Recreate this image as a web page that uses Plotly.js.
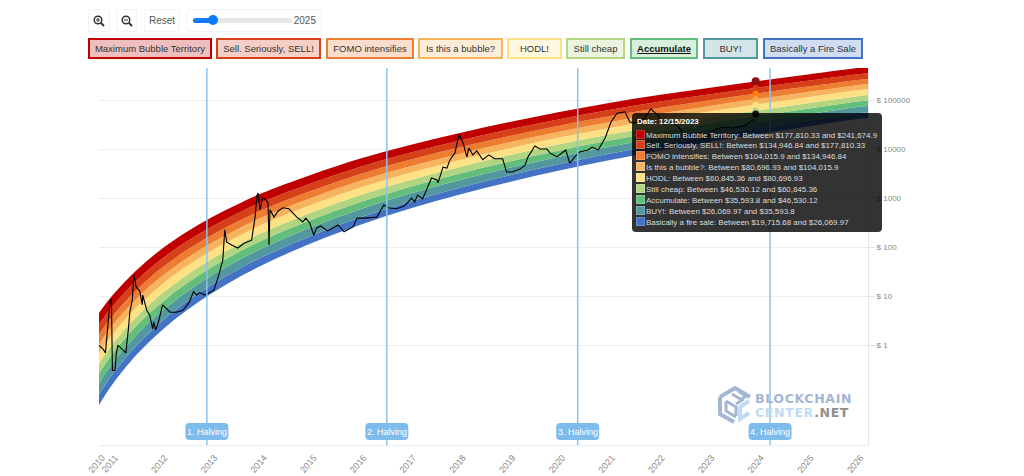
<!DOCTYPE html>
<html>
<head>
<meta charset="utf-8">
<script src="https://cdn.plot.ly/plotly-3.0.1.min.js"></script>
<style>
html,body{margin:0;padding:0;background:#fff;width:1024px;height:476px;overflow:hidden;font-family:"Liberation Sans",Arial,sans-serif}
#chart{position:absolute;left:0;top:0;width:1024px;height:476px}
.ctl{position:absolute;box-sizing:border-box;border:1px solid #f3f3f3;border-radius:2px;background:#fff;color:#555;font-size:10px;display:flex;align-items:center;justify-content:center}
.leg{position:absolute;box-sizing:border-box;top:38px;height:21px;border-width:2px;border-style:solid;font-size:9.5px;color:#333;display:flex;align-items:center;justify-content:center;white-space:nowrap}
#track{position:absolute;left:193px;top:18px;width:99px;height:5px;border-radius:3px;background:#e6e6e6}
#fill{position:absolute;left:193px;top:18px;width:20px;height:5px;border-radius:3px 0 0 3px;background:#0d7bff}
#thumb{position:absolute;left:208px;top:15px;width:10px;height:10px;border-radius:50%;background:#0d7bff}
#tip{position:absolute;left:632px;top:113px;width:250px;height:119px;border-radius:4px;background:rgba(0,0,0,.8);color:#fff;font-size:7.95px;line-height:11px}
#tip .t{font-weight:bold;position:absolute;left:5px;top:3px}
#tip .r{position:absolute;left:4px;white-space:nowrap;color:#ddd}
#tip .s{display:inline-block;width:7px;height:7px;border:1px solid #fff3;margin-right:1px;vertical-align:-1px}
#logo{position:absolute;left:718px;top:386px;width:140px;height:40px}
.wm{position:absolute;left:755px;font:bold 12.6px "DejaVu Sans",sans-serif;letter-spacing:.6px;line-height:14.8px;white-space:nowrap}
</style>
</head>
<body>
<div id="chart"></div>
<svg id="logo" viewBox="0 0 140 40" style="pointer-events:none">
  <g fill="none" stroke-width="4" stroke-linejoin="miter">
    <path d="M2 11 L17 2 L32 11" stroke="#a5b6d5"/>
    <path d="M2 11 V28 L16 36" stroke="#a5b6d5"/>
    <path d="M8 15 L18 21 V30 M8 15 V25 L18 31" stroke="#a5b6d5" stroke-width="3"/>
    <path d="M14 8 L24 14 L18 18 M20 5 L28 10 L22 14" stroke="#a5b6d5" stroke-width="3"/>
    <path d="M31 15 L22 21 V33 L31 27" stroke="#bfdcf2"/>
  </g>
</svg>
<div class="wm" style="top:391.5px;color:#a5b6d5">BLOCKCHAIN</div>
<div class="wm" style="top:406.4px;color:#bfdcf2">CENTER<span style="color:#8f8f8f">.NET</span></div>

<div class="ctl" style="left:88px;top:9px;width:22px;height:23px">
  <svg width="12" height="12" viewBox="0 0 12 12"><circle cx="5" cy="5" r="3.8" fill="none" stroke="#333" stroke-width="1.5"/><path d="M8 8 L11 11" stroke="#333" stroke-width="2"/><path d="M3 5H7M5 3V7" stroke="#333"/></svg>
</div>
<div class="ctl" style="left:116px;top:9px;width:21px;height:23px">
  <svg width="12" height="12" viewBox="0 0 12 12"><circle cx="5" cy="5" r="3.8" fill="none" stroke="#333" stroke-width="1.5"/><path d="M8 8 L11 11" stroke="#333" stroke-width="2"/><path d="M3 5H7" stroke="#333"/></svg>
</div>
<div class="ctl" style="left:144px;top:9px;width:36px;height:23px">Reset</div>
<div class="ctl" style="left:187px;top:9px;width:135px;height:23px;justify-content:flex-end;padding-right:5px">2025</div>
<div id="track"></div><div id="fill"></div><div id="thumb"></div>
<div id="legendRow"></div>
<div id="tip"></div>

<script>
const buttonNames = ["Maximum Bubble Territory","Sell. Seriously, SELL!","FOMO intensifies","Is this a bubble?","HODL!","Still cheap","Accumulate","BUY!","Basically a Fire Sale"];
const bandNames = ["Maximum Bubble Territory","Sell. Seriously, SELL!","FOMO intensifies","Is this a bubble?","HODL","Still cheap","Accumulate","BUY!","Basically a fire sale"];
const bandColors = ["#c00000","#d64018","#ed7d31","#f6b45e","#fee185","#b1d580","#63be7b","#54989f","#4472c4"];
const buttonLeft  = [88,216,326,418,507,566,630,703,763];
const buttonWidth = [124,105,88,85,55,59,68,55,100];

// Decimal-year positions of the band readings
const bandDates = [2010.74,2011,2011.5,2012,2012.5,2013,2013.5,2014,2015,2016,2017,2018,2019,2020,2021,2022,2023,2024,2025,2026,2026.21];
// log10(price) of each band edge, bottom to top
const fireSaleLow   = [-1.224,-.816,-.194,.298,.704,1.053,1.353,1.620,2.071,2.455,2.786,3.071,3.327,3.561,3.771,3.959,4.143,4.306,4.459,4.612,4.633];
const buyLow        = [-1.016,-.614,-.003,.482,.882,1.225,1.520,1.783,2.226,2.605,2.930,3.210,3.463,3.694,3.901,4.086,4.265,4.426,4.577,4.728,4.748];
const accumulateLow = [-.783,-.389,.211,.688,1.080,1.417,1.706,1.965,2.400,2.772,3.091,3.366,3.615,3.842,4.045,4.228,4.402,4.560,4.709,4.857,4.877];
const stillCheapLow = [-.580,-.193,.398,.868,1.253,1.584,1.869,2.124,2.551,2.918,3.231,3.502,3.747,3.971,4.172,4.351,4.521,4.677,4.824,4.969,4.990];
const hodlLow       = [-.381,-.001,.581,1.044,1.423,1.749,2.028,2.280,2.699,3.061,3.368,3.635,3.877,4.097,4.295,4.472,4.638,4.792,4.936,5.079,5.100];
const bubbleLow     = [-.168,.206,.776,1.232,1.605,1.924,2.199,2.447,2.857,3.214,3.515,3.778,4.016,4.233,4.428,4.602,4.763,4.915,5.057,5.198,5.218];
const fomoLow       = [.022,.390,.951,1.401,1.768,2.082,2.352,2.596,2.999,3.351,3.647,3.905,4.140,4.354,4.547,4.718,4.875,5.024,5.165,5.303,5.324];
const sellLow       = [.216,.577,1.129,1.572,1.933,2.241,2.507,2.747,3.143,3.490,3.780,4.034,4.266,4.477,4.667,4.836,4.988,5.136,5.274,5.410,5.431];
const maxBubbleLow  = [.424,.778,1.321,1.756,2.111,2.413,2.674,2.911,3.298,3.639,3.924,4.174,4.402,4.609,4.797,4.963,5.111,5.256,5.392,5.526,5.546];
const maxBubbleHigh = [.653,1.000,1.531,1.959,2.306,2.602,2.857,3.090,3.469,3.804,4.082,4.327,4.551,4.755,4.939,5.102,5.245,5.388,5.522,5.653,5.673];

// Bitcoin price: decimal year and log10(price)
const priceDates = [2010.74,2010.82,2010.87,2010.92,2010.96,2010.99,2011.00,2011.01,2011.06,2011.09,2011.12,2011.19,2011.28,2011.33,2011.36,2011.41,2011.44,2011.49,2011.56,2011.61,2011.62,2011.70,2011.76,2011.82,2011.84,2011.88,2011.93,2012.02,2012.10,2012.17,2012.30,2012.43,2012.56,2012.64,2012.70,2012.77,2012.87,2013.05,2013.14,2013.23,2013.27,2013.31,2013.41,2013.53,2013.67,2013.81,2013.88,2013.92,2013.94,2013.98,2014.03,2014.10,2014.14,2014.16,2014.18,2014.26,2014.34,2014.44,2014.56,2014.72,2014.84,2014.90,2014.98,2015.06,2015.12,2015.20,2015.34,2015.55,2015.67,2015.85,2015.93,2016.09,2016.33,2016.47,2016.55,2016.73,2016.89,2017.03,2017.09,2017.15,2017.25,2017.35,2017.43,2017.54,2017.56,2017.66,2017.74,2017.80,2017.90,2017.98,2018.06,2018.14,2018.18,2018.26,2018.34,2018.46,2018.58,2018.70,2018.86,2018.94,2019.05,2019.21,2019.31,2019.37,2019.51,2019.61,2019.75,2019.81,2019.95,2020.13,2020.21,2020.31,2020.41,2020.58,2020.66,2020.78,2020.92,2021.04,2021.16,2021.32,2021.42,2021.52,2021.72,2021.84,2021.98,2022.10,2022.26,2022.38,2022.52,2022.76,2022.92,2023.11,2023.27,2023.49,2023.73,2023.95];
const priceLog = [-.01,-.08,-.16,.47,.86,.94,.24,-.52,-.52,-.16,0,-.08,-.16,.31,.67,.92,1.43,1.18,1.10,.82,1.02,.71,.61,.33,.47,.31,.45,.82,.73,.67,.67,.71,.88,1.09,1.02,1.07,1.02,1.12,1.39,1.73,2.35,2.10,2.04,1.98,2.08,2.14,2.61,3.06,3.10,2.76,3.00,2.96,2.90,2.04,2.76,2.61,2.73,2.80,2.78,2.61,2.51,2.59,2.49,2.24,2.39,2.43,2.33,2.45,2.31,2.41,2.59,2.59,2.61,2.86,2.80,2.78,2.84,3.00,2.92,3.06,2.98,3.20,3.41,3.37,3.31,3.63,3.61,3.78,3.92,4.29,4.14,3.84,4.02,3.88,3.96,3.78,3.88,3.80,3.80,3.53,3.53,3.59,3.67,3.84,4.06,4.00,4.00,3.92,3.84,3.98,3.71,3.84,3.94,3.98,4.04,3.98,4.22,4.55,4.73,4.76,4.55,4.53,4.63,4.82,4.69,4.51,4.55,4.47,4.29,4.27,4.20,4.39,4.45,4.43,4.47,4.63];

// Tooltip of 12/15/2023, top band first
const hoverDate = 2023.95;
const hoverPrice = 52000;
const tipLow  = [177810.33,134946.84,104015.9,80696.93,60845.36,46530.12,35593.8,26069.97,19715.68];
const tipHigh = [241674.9,177810.33,134946.84,104015.9,80696.93,60845.36,46530.12,35593.8,26069.97];
const markerColors = ["#8f1010","#d64018","#ff7f10","#f6a84e","#fee185","#b1d580","#63be7b","#54989f","#4472c4"];

const halvingDates = [2012.91,2016.53,2020.37,2024.24];
const halvingLabels = ["1. Halving","2. Halving","3. Halving","4. Halving"];

const yTickVals = [1,10,100,1000,10000,100000];
const yTickText = ["$ 1","$ 10","$ 100","$ 1000","$ 10000","$ 100000"];
const xTickVals = [2010.74,2011,2012,2013,2014,2015,2016,2017,2018,2019,2020,2021,2022,2023,2024,2025,2026];
const xTickText = ["2010","2011","2012","2013","2014","2015","2016","2017","2018","2019","2020","2021","2022","2023","2024","2025","2026"];

const pow = a => a.map(v => Math.pow(10, v));
const edges = [fireSaleLow,buyLow,accumulateLow,stillCheapLow,hodlLow,bubbleLow,fomoLow,sellLow,maxBubbleLow,maxBubbleHigh];
const colorsBottomUp = bandColors.slice().reverse();

const traces = [];
traces.push({x:bandDates,y:pow(edges[0]),mode:'lines',line:{width:0,shape:'spline',smoothing:1},hoverinfo:'skip',showlegend:false});
for (let i=1;i<edges.length;i++){
  traces.push({x:bandDates,y:pow(edges[i]),mode:'lines',fill:'tonexty',fillcolor:colorsBottomUp[i-1],
    line:{width:0,shape:'spline',smoothing:1},hoverinfo:'skip',showlegend:false});
}
traces.push({x:priceDates,y:pow(priceLog),mode:'lines',line:{color:'#000',width:1.1},hoverinfo:'skip',showlegend:false});
tipHigh.forEach((v,i)=>{
  traces.push({x:[hoverDate],y:[v],mode:'markers',marker:{size:i===0?8:6,color:markerColors[i]},hoverinfo:'skip',showlegend:false});
});
traces.push({x:[hoverDate],y:[hoverPrice],mode:'markers',marker:{size:7,color:'#111'},hoverinfo:'skip',showlegend:false});

const shapes = [], annotations = [];
const rr = "M-21.5,-4.5 Q-21.5,-8.5 -17.5,-8.5 L17.5,-8.5 Q21.5,-8.5 21.5,-4.5 L21.5,4.5 Q21.5,8.5 17.5,8.5 L-17.5,8.5 Q-21.5,8.5 -21.5,4.5 Z";
halvingDates.forEach((d,i)=>{
  shapes.push({type:'line',xref:'x',yref:'paper',x0:d,x1:d,y0:0,y1:1,line:{color:'#8cc3ee',width:1.5},layer:'above'});
  shapes.push({type:'path',xref:'x',yref:'paper',xsizemode:'pixel',ysizemode:'pixel',xanchor:d,yanchor:0.0358,path:rr,fillcolor:'#7ebcec',line:{width:0},layer:'above'});
  annotations.push({xref:'x',yref:'paper',x:d,y:0.0358,text:halvingLabels[i],showarrow:false,font:{family:'"Liberation Sans",Arial,sans-serif',size:9,color:'#fff'},xanchor:'center',yanchor:'middle'});
});

const layout = {
  width:1024,height:476,paper_bgcolor:'rgba(0,0,0,0)',plot_bgcolor:'rgba(0,0,0,0)',
  margin:{l:99,r:156,t:68,b:31,pad:0},showlegend:false,
  font:{family:'"Liberation Sans",Arial,sans-serif',size:9,color:'#888'},
  xaxis:{type:'linear',range:[2010.74,2026.21],tickmode:'array',tickvals:xTickVals,ticktext:xTickText,tickangle:-50,
    ticklabelshift:3,ticklabelstandoff:3,
    showgrid:false,zeroline:false,showline:true,linecolor:'#e8eef5',linewidth:1,ticks:'',tickfont:{size:9,color:'#888'}},
  yaxis:{type:'log',side:'right',range:[-2.04,5.653],tickmode:'array',tickvals:yTickVals,ticktext:yTickText,
    showgrid:true,gridcolor:'#eeeeee',gridwidth:1,zeroline:false,showline:true,linecolor:'#e8e8e8',linewidth:1,
    ticks:'outside',ticklen:6,tickcolor:'#e4e4e4',tickfont:{size:8,color:'#888'}},
  shapes:shapes,annotations:annotations
};
Plotly.newPlot('chart',traces,layout,{displayModeBar:false,responsive:false});

const hex2rgba=(h,a)=>{const n=parseInt(h.slice(1),16);return `rgba(${n>>16},${(n>>8)&255},${n&255},${a})`;};
const row=document.getElementById('legendRow');
buttonNames.forEach((n,i)=>{
  const d=document.createElement('div');d.className='leg';d.textContent=n;
  d.style.left=buttonLeft[i]+'px';d.style.width=buttonWidth[i]+'px';
  d.style.borderColor=bandColors[i];d.style.background=hex2rgba(bandColors[i],.25);
  if(n==="Accumulate"){d.style.fontWeight='bold';d.style.textDecoration='underline';d.style.color='#111';}
  row.appendChild(d);
});
const fmt=v=>'$'+v.toLocaleString('en-US',{maximumFractionDigits:2});
const tip=document.getElementById('tip');
let h='<div class="t">Date: 12/15/2023</div>';
bandNames.forEach((n,i)=>{
  h+=`<div class="r" style="top:${16.5+i*10.9}px"><span class="s" style="background:${bandColors[i]}"></span>${n}: Between ${fmt(tipLow[i])} and ${fmt(tipHigh[i])}</div>`;
});
tip.innerHTML=h;
</script>
</body>
</html>
